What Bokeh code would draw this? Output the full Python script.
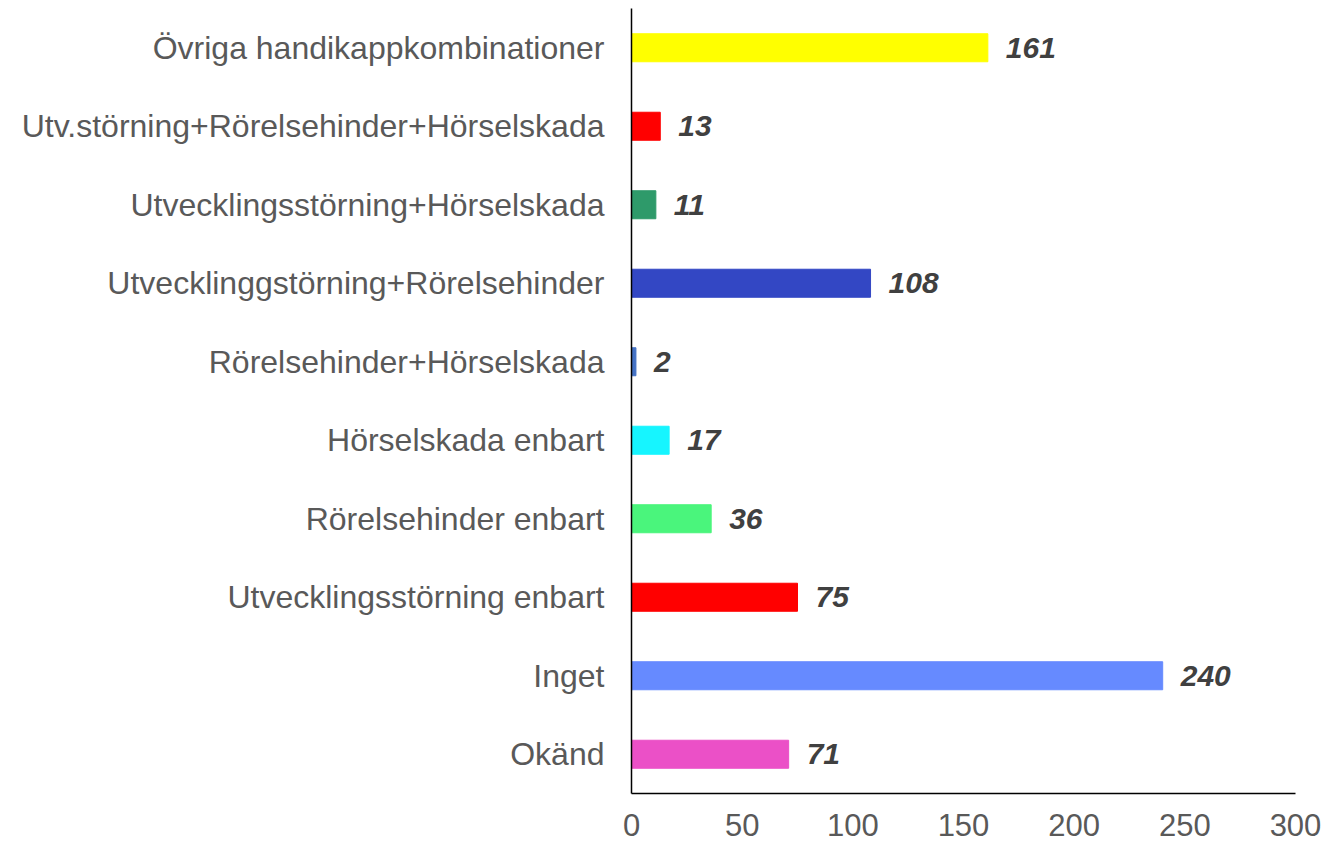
from bokeh.plotting import figure
from bokeh.models import FactorRange, Range1d, ColumnDataSource
from bokeh.core.properties import value
from bokeh.embed import file_html
from bokeh.resources import INLINE

categories = ["Okänd", "Inget", "Utvecklingsstörning enbart", "Rörelsehinder enbart",
              "Hörselskada enbart", "Rörelsehinder+Hörselskada",
              "Utvecklinggstörning+Rörelsehinder", "Utvecklingsstörning+Hörselskada",
              "Utv.störning+Rörelsehinder+Hörselskada", "Övriga handikappkombinationer"]
counts = [71, 240, 75, 36, 17, 2, 108, 11, 13, 161]
colors = ["#EB50C7", "#668AFF", "#FF0000", "#4AF57C", "#16F5FF", "#4472C4",
          "#3347C4", "#2E9A6A", "#FF0000", "#FFFF00"]
x_ticks = [0, 50, 100, 150, 200, 250, 300]

src = ColumnDataSource(dict(cat=categories, val=counts, col=colors,
                            lab=[str(v) for v in counts]))

p = figure(width=1325, height=844, output_backend="svg", toolbar_location=None,
           y_range=FactorRange(factors=categories), x_range=Range1d(0, 300),
           min_border_left=631, min_border_top=8, min_border_bottom=51, min_border_right=30)
p.hbar(y="cat", right="val", left=0, height=0.357, color="col", source=src)
p.text(x="val", y="cat", text="lab", source=src, x_offset=18,
       text_font=value("Liberation Sans"), text_font_style="bold italic",
       text_font_size="30px", text_color="#404040", text_baseline="middle")

p.outline_line_color = None
p.grid.grid_line_color = None
p.background_fill_color = "white"

p.xaxis.ticker = x_ticks
for ax in (p.xaxis[0], p.yaxis[0]):
    ax.axis_line_color = "black"
    ax.axis_line_width = 1.5
    ax.major_tick_line_color = None
    ax.minor_tick_line_color = None
    ax.major_label_text_font = "Liberation Sans"
    ax.major_label_text_font_size = "31px"
    ax.major_label_text_color = "#595959"
p.yaxis.major_label_text_font_size = "32px"
p.yaxis.major_label_standoff = 21
p.xaxis.major_label_standoff = 14

open("out.html", "w").write(file_html(p, INLINE))
